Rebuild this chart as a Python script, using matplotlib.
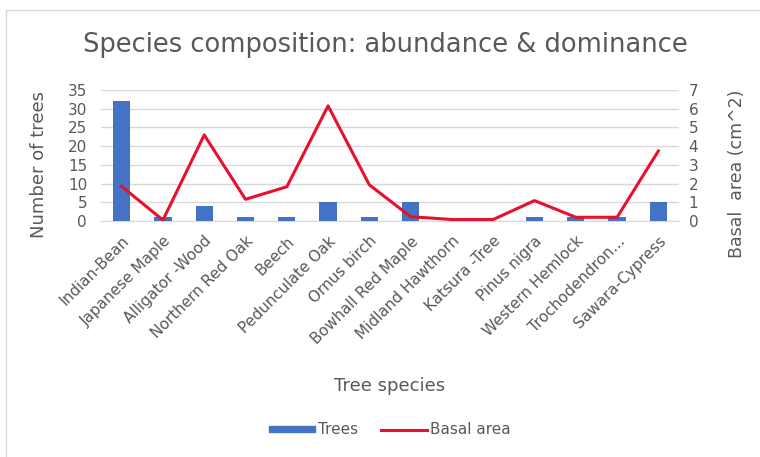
import matplotlib
matplotlib.use("Agg")
import matplotlib.pyplot as plt
import numpy as np
from matplotlib.lines import Line2D
from matplotlib.patches import Patch

species = ["Indian-Bean", "Japanese Maple", "Alligator -Wood", "Northern Red Oak", "Beech",
           "Pedunculate Oak", "Ornus birch", "Bowhall Red Maple", "Midland Hawthorn",
           "Katsura -Tree", "Pinus nigra", "Western Hemlock", "Trochodendron\u2026",
           "Sawara-Cypress"]
trees = [32, 1, 4, 1, 1, 5, 1, 5, 0, 0, 1, 1, 1, 5]
basal_area = [1.85, 0.05, 4.6, 1.16, 1.83, 6.15, 1.93, 0.23, 0.08, 0.08, 1.09, 0.2, 0.2, 3.74]

plt.rcParams['font.family'] = ['DejaVu Sans']
gray = "#595959"
fig = plt.figure(figsize=(7.6, 4.57), dpi=100)
ax = fig.add_axes([101/760, 1-221/457, (679-101)/760, (221-90)/457])
x = np.arange(len(species))
ax.bar(x, trees, width=0.42, color="#4472c4", zorder=3)
ax.set_ylim(0, 35)
ax.set_yticks(range(0, 36, 5))
ax.set_xlim(-0.5, len(species)-0.5)
ax.grid(axis='y', color="#d9d9d9", linewidth=1, zorder=0)
for s in ["top", "right", "left"]:
    ax.spines[s].set_visible(False)
ax.spines["bottom"].set_color("#d9d9d9")
ax.tick_params(axis='y', length=0, colors=gray, labelsize=11, pad=10)
ax.tick_params(axis='x', length=0, colors=gray, pad=9)
ax.set_xticks(x)
ax.set_xticklabels(species, rotation=45, ha='right', rotation_mode='anchor', fontsize=11, color=gray)
ax.set_ylabel("Number of trees", fontsize=13, color=gray)
ax.yaxis.set_label_coords((48-101)/578, 0.43)
ax.set_xlabel("Tree species", fontsize=13, color=gray)
ax.xaxis.set_label_coords((390-101)/578, -(377-221)/131)

ax2 = ax.twinx()
ax2.plot(x, basal_area, color="#e8112d", linewidth=2.2, zorder=4)
ax2.set_ylim(0, 7)
ax2.set_yticks(range(0, 8))
for s in ["top", "right", "left", "bottom"]:
    ax2.spines[s].set_visible(False)
ax2.tick_params(axis='both', length=0, colors=gray, labelsize=11, pad=7)
ax2.set_ylabel("Basal  area (cm^2)", fontsize=12.5, color=gray)
ax2.yaxis.set_label_coords((728-101)/578, 0.36)

fig.text(385/760, 1-45/457, "Species composition: abundance & dominance", ha='center', va='center',
         fontsize=18.5, color=gray)

handles = [Patch(color="#4472c4"), Line2D([0], [0], color="#e8112d", linewidth=2.2)]
fig.legend(handles, ["Trees", "Basal area"], loc='center', bbox_to_anchor=(390/760, 1-430/457),
           ncol=2, frameon=False, fontsize=11, handlelength=3, handleheight=0.3,
           labelcolor=gray, columnspacing=1.5, handletextpad=0.2)

fig.add_artist(plt.Rectangle((6/760, -0.1), 1.2, 1-10/457+0.1, transform=fig.transFigure,
                             fill=False, edgecolor="#d9d9d9", linewidth=1))
fig.savefig("out.png", dpi=100)
